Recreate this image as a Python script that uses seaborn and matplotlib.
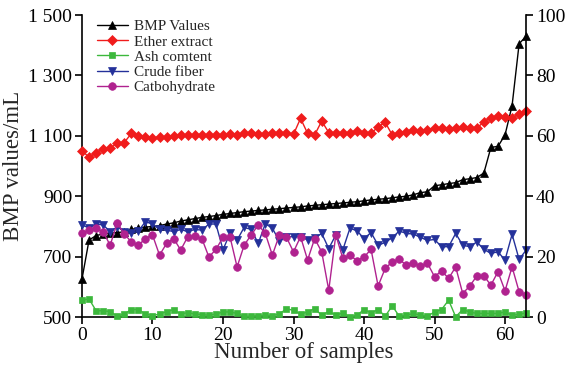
import matplotlib
matplotlib.use("Agg")
import matplotlib.pyplot as plt
from matplotlib.ticker import FuncFormatter, MultipleLocator
import seaborn as sns
import numpy as np
import pandas as pd

sns.set_style("ticks")
plt.rcParams['font.family'] = ['Liberation Serif', 'DejaVu Serif']

# sample index 0..63
samples = list(range(64))

# BMP values (left axis, mL)
bmp = [626, 755, 770, 775, 778, 780, 782, 790, 795, 798,
       800, 803, 808, 812, 818, 822, 826, 830, 833, 836,
       840, 843, 846, 849, 851, 853, 855, 857, 859, 861,
       863, 865, 868, 870, 872, 874, 876, 878, 880, 882,
       885, 888, 890, 892, 895, 898, 900, 905, 912, 915,
       935, 938, 942, 945, 955, 958, 962, 977, 1062, 1065,
       1103, 1200, 1405, 1430]

# composition (right axis, %)
ether = [55.1, 52.9, 54.4, 55.7, 56.0, 57.5, 57.8, 60.8, 59.9, 59.5,
         59.2, 59.7, 59.5, 59.9, 60.3, 60.3, 60.3, 60.2, 60.4, 60.3,
         60.3, 60.6, 60.3, 61.0, 60.8, 60.5, 60.5, 60.8, 61.1, 60.8,
         60.5, 65.8, 60.8, 60.3, 64.9, 61.1, 60.8, 60.8, 61.1, 61.5,
         60.8, 60.8, 63.0, 64.5, 60.3, 60.8, 61.4, 61.9, 61.6, 61.9,
         62.7, 62.7, 62.4, 62.7, 62.9, 62.7, 62.5, 64.7, 66.0, 66.7,
         66.3, 65.8, 67.4, 68.2]

ash = [5.6, 6.0, 2.1, 2.1, 1.8, 0.3, 1.0, 2.5, 2.5, 1.0,
       0.5, 1.0, 1.8, 2.5, 1.0, 1.5, 1.0, 0.8, 0.6, 1.0,
       1.7, 1.7, 1.2, 0.2, 0.3, 0.5, 0.6, 0.5, 1.0, 2.8,
       2.2, 1.0, 1.7, 2.8, 0.6, 1.9, 0.6, 1.4, 0.1, 0.6,
       2.5, 1.4, 2.5, 0.3, 3.7, 0.3, 0.6, 1.2, 0.6, 0.3,
       1.7, 2.5, 5.6, 0.1, 2.5, 1.7, 1.2, 1.2, 1.2, 1.2,
       1.7, 0.6, 0.9, 1.4]

fiber = [30.5, 29.5, 30.8, 30.5, 28.3, 29.9, 28.3, 27.7, 28.5, 31.6,
         30.8, 29.0, 28.8, 28.3, 29.0, 28.3, 29.0, 28.8, 30.8, 30.8,
         22.3, 27.8, 25.5, 29.7, 29.0, 24.4, 30.9, 29.4, 25.2, 26.6,
         26.6, 26.6, 25.6, 26.2, 27.7, 22.7, 27.2, 22.3, 29.4, 28.6,
         26.0, 28.0, 23.8, 24.7, 26.3, 28.5, 27.7, 27.5, 26.4, 25.4,
         25.7, 23.3, 23.3, 27.7, 23.8, 23.3, 24.9, 22.4, 21.1, 21.6,
         18.9, 27.4, 19.1, 22.2]

carb = [27.7, 28.8, 29.4, 28.2, 23.8, 31.2, 27.5, 24.9, 23.8, 26.0,
        27.2, 20.5, 24.4, 26.0, 22.2, 26.6, 26.7, 26.0, 19.9, 22.4,
        26.4, 26.5, 16.6, 23.8, 27.2, 30.5, 27.7, 20.5, 27.2, 26.4,
        21.6, 26.6, 18.9, 26.0, 21.6, 8.9, 27.2, 19.4, 20.5, 18.7,
        19.9, 22.4, 10.3, 16.1, 18.3, 19.1, 17.2, 18.0, 16.8, 17.8,
        13.4, 15.3, 12.8, 16.6, 7.8, 10.3, 13.6, 13.6, 10.6, 15.0,
        8.7, 16.6, 8.4, 7.3]

left_ticks = [500, 700, 900, 1100, 1300, 1500]

df = pd.DataFrame({"n": samples, "bmp": bmp, "ether": ether, "ash": ash,
                   "fiber": fiber, "carb": carb})

fig = plt.figure(figsize=(5.67, 3.67), dpi=100)
ax = fig.add_axes([0.1446, 0.136, 0.7834, 0.823])
ax2 = ax.twinx()

common = dict(linewidth=1.0, markeredgewidth=0.5, clip_on=False)

sns.lineplot(data=df, x="n", y="bmp", ax=ax, color="black", marker="^",
             markeredgecolor="black", markersize=5.5, label="BMP Values",
             legend=False, **common)

right_series = [
    ("ether", "Ether extract", "#f01c1c", "D", 4.8),
    ("ash", "Ash comtent", "#3cb83c", "s", 4.8),
    ("fiber", "Crude fiber", "#24319a", "v", 5.8),
    ("carb", "Catbohydrate", "#b0228f", "o", 5.5),
]
for col, lab, colr, mk, ms in right_series:
    sns.lineplot(data=df, x="n", y=col, ax=ax2, color=colr, marker=mk,
                 markeredgecolor=colr, markersize=ms, label=lab,
                 legend=False, **common)

ax.set_xlim(0, 63)
ax.set_ylim(500, 1500)
ax2.set_ylim(0, 100)
ax.xaxis.set_major_locator(MultipleLocator(10))
ax.set_yticks(left_ticks)
ax2.yaxis.set_major_locator(MultipleLocator(20))
ax.yaxis.set_major_formatter(FuncFormatter(lambda v, p: f"{v:,.0f}".replace(",", " ")))

ax.set_xlabel("Number of samples", fontsize=16.5, labelpad=-1)
ax.set_ylabel("BMP values/mL", fontsize=16.5, labelpad=3)
ax2.set_ylabel("")

for a in (ax, ax2):
    a.tick_params(direction="out", length=5, width=1.2, labelsize=14, pad=2, colors="black")
    a.spines["top"].set_visible(False)
    for s in a.spines.values():
        s.set_linewidth(1.2)
        s.set_color("black")
ax.spines["right"].set_visible(False)
ax2.spines["left"].set_visible(False)
ax2.spines["bottom"].set_visible(False)

h1, l1 = ax.get_legend_handles_labels()
h2, l2 = ax2.get_legend_handles_labels()
ax2.legend(h1 + h2, l1 + l2, loc="upper left", bbox_to_anchor=(0.01, 1.02),
           frameon=False, fontsize=11, labelspacing=0.1, handlelength=2.0,
           handletextpad=0.4, borderaxespad=0.3)

fig.savefig("out.png", dpi=100)
